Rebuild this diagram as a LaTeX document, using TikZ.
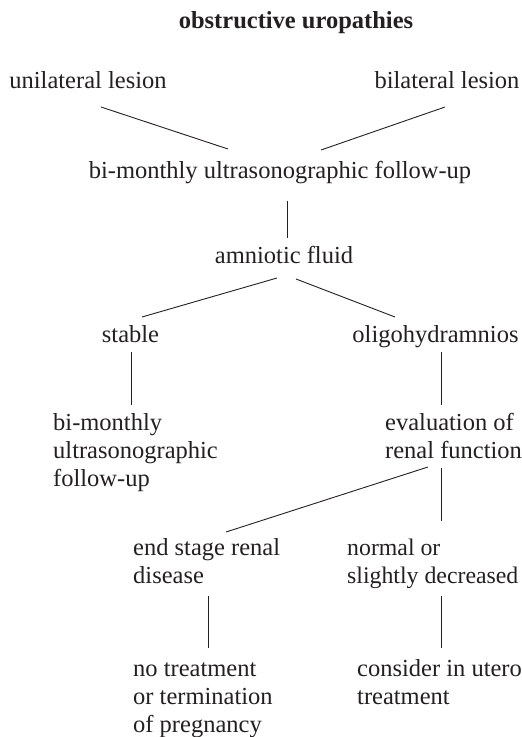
\documentclass[tikz,border=0pt]{standalone}
\usepackage{fontspec}
\setmainfont{Liberation Serif}
\usetikzlibrary{calc}
\definecolor{inkgray}{rgb}{0.14,0.12,0.13}

\tikzset{
  lbl/.style={inner sep=0pt, text=inkgray, anchor=base, font=\fontsize{24.5pt}{28pt}\selectfont},
  lblleft/.style={lbl, align=left, anchor=base west},
  link/.style={line width=0.9pt, draw=inkgray},
}

\begin{document}
\begin{tikzpicture}[x=1pt,y=-1pt]
\useasboundingbox (0,0) rectangle (522,737);
% heading and first level
\node[lbl, font=\fontsize{24.5pt}{28pt}\selectfont\bfseries] (title) at (296,28) {obstructive uropathies};
\node[lbl] (unil) at (88,88) {unilateral lesion};
\node[lbl] (bil) at (447,88) {bilateral lesion};
\node[lbl] (follow) at (280,178) {bi-monthly ultrasonographic follow-up};
\node[lbl] (fluid) at (284,263) {amniotic fluid};
\node[lbl] (stable) at (130.5,342) {stable};
\node[lbl] (oligo) at (435.5,342) {oligohydramnios};
% lower levels (base = last line)
\node[lblleft] (follow2) at (53,486) {bi-monthly\\ultrasonographic\\follow-up};
\node[lblleft] (renal) at (385,458) {evaluation of\\renal function};
\node[lblleft] (esrd) at (133,583) {end stage renal\\disease};
\node[lblleft, font=\fontsize{23.8pt}{28pt}\selectfont] (normal) at (347,583) {normal or\\slightly decreased};
\node[lblleft] (notreat) at (133,732) {no treatment\\or termination\\of pregnancy};
\node[lblleft] (utero) at (357,704) {consider in utero\\treatment};

\begin{scope}[link]
    \draw ($(unil.base)+(13,19)$) -- ($(follow.base)+(-52,-29)$);
    \draw ($(bil.base)+(-2,19)$) -- ($(follow.base)+(41,-28)$);
    \draw ($(follow.base)+(7,23)$) -- ($(fluid.base)+(3,-25)$);
    \draw ($(fluid.base)+(-7,15)$) -- ($(stable.base)+(11.5,-25)$);
    \draw ($(fluid.base)+(12,16)$) -- ($(oligo.base)+(-40.5,-25)$);
    \draw ($(stable.base)+(0.5,10)$) -- ($(follow2.base west)+(78,-81)$);
    \draw ($(oligo.base)+(5.5,10)$) -- ($(renal.base west)+(56,-53)$);
    \draw ($(renal.base west)+(43,9)$) -- ($(esrd.base west)+(93,-51)$);
    \draw ($(renal.base west)+(56,10)$) -- ($(normal.base west)+(94,-62)$);
    \draw ($(esrd.base west)+(75,13)$) -- ($(notreat.base west)+(75,-84)$);
    \draw ($(normal.base west)+(94,13)$) -- ($(utero.base west)+(84,-56)$);
\end{scope}
\end{tikzpicture}
\end{document}
